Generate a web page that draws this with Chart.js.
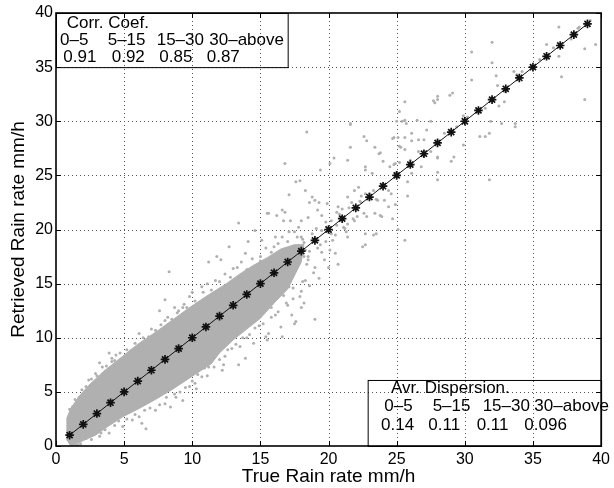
<!DOCTYPE html>
<html>
<head>
<meta charset="utf-8">
<script src="https://cdn.jsdelivr.net/npm/chart.js@4/dist/chart.umd.min.js"></script>
<style>
  html, body { margin: 0; padding: 0; background: #fff; }
</style>
</head>
<body>
<canvas id="rainChart" width="614" height="488"></canvas>
<script>
// tick values
var axisTicks = [0, 5, 10, 15, 20, 25, 30, 35, 40];

// 1:1 reference line with markers
var lineTrue      = [1, 2, 3, 4, 5, 6, 7, 8, 9, 10, 11, 12, 13, 14, 15, 16, 17, 18, 19, 20, 21, 22, 23, 24, 25, 26, 27, 28, 29, 30, 31, 32, 33, 34, 35, 36, 37, 38, 39];
var lineRetrieved = [1, 2, 3, 4, 5, 6, 7, 8, 9, 10, 11, 12, 13, 14, 15, 16, 17, 18, 19, 20, 21, 22, 23, 24, 25, 26, 27, 28, 29, 30, 31, 32, 33, 34, 35, 36, 37, 38, 39];

// outline of the solid grey cloud
var bandTrue      = [0.8, 0.8, 1.1, 1.7, 2.4, 3.5, 4.9, 6.0, 7.3, 8.5, 9.7, 11.0, 12.5, 13.5, 14.5, 15.5, 16.5, 17.5, 18.2, 18.0, 17.0, 16.0, 15.0, 14.0, 13.0, 12.0, 11.4, 9.7, 8.5, 7.3, 6.0, 4.9, 3.8, 2.9, 2.0, 1.5, 1.0];
var bandRetrieved = [0.5, 2.6, 3.5, 4.6, 5.6, 6.9, 8.3, 9.4, 10.5, 11.6, 12.7, 13.8, 15.0, 15.9, 16.7, 17.4, 18.2, 18.6, 18.6, 17.0, 14.5, 13.2, 11.8, 10.8, 9.8, 8.6, 7.6, 6.2, 5.2, 4.3, 3.4, 2.7, 1.8, 1.0, 0.5, 0.2, 0.1];

// scattered samples outside the solid part, [true, retrieved]
var cloudPoints = [
  [1.2,3.6],[1.7,4.5],[2.2,5.5],[2.4,6.1],[2.9,6.7],[3.2,7.7],[3.4,7.3],[4.1,7.8],[4.4,8.4],[5.5,8.8],
  [5.9,9.1],[6.3,9.4],[6.8,10.1],[7.3,10.7],[8.0,11.6],[8.5,11.7],[9.0,12.5],[9.6,12.8],[9.3,12.8],[9.8,13.8],
  [10.0,14.2],[10.7,14.7],[11.7,15.3],[12.4,15.9],[13.0,16.4],[11.2,17.0],[11.8,17.5],[12.1,17.2],[12.7,18.4],[13.4,20.6],
  [14.1,18.9],[13.9,17.8],[8.3,16.1],[8.0,13.5],[7.6,12.5],[4.1,8.1],
  [3.2,0.9],[3.9,1.2],[4.9,1.8],[5.6,2.4],[6.1,2.7],[6.3,2.1],[6.6,1.6],[7.3,3.3],[8.0,3.9],[8.4,3.6],
  [8.8,4.5],[9.3,4.2],[9.8,5.5],[10.2,5.8],[10.7,6.4],[11.2,7.3],[12.6,8.9],[13.4,7.5],[13.9,8.1],[12.2,7.0],
  [14.9,11.1],[15.4,10.1],[15.5,9.8],[15.6,10.4],[16.6,10.1],[15.8,12.8],[16.1,12.1],[16.4,14.1],[17.0,13.0],[17.1,14.7],
  [17.3,12.1],[17.5,11.3],[17.6,11.5],[17.9,13.8],[18.0,12.8],[18.2,13.2],[18.3,15.3],[19.0,11.7],[16.5,11.0],[14.5,9.5],
  [14.0,10.0],[13.5,9.2],
  [1.2,0.1],[1.4,0.2],[1.6,0.1],[1.3,0.3],[1.8,0.2],[1.1,0.4],[1.5,0.0],
  [1.0,3.4],[1.4,4.3],[1.9,5.2],[2.6,6.2],[3.0,6.5],[3.7,7.4],[4.3,7.9],[4.7,8.6],[5.2,8.9],[5.8,9.5],
  [6.4,10.0],[7.0,10.8],[7.7,11.2],[8.2,11.9],[8.9,12.3],[9.4,13.1],[10.2,13.4],[10.8,14.2],[11.4,14.4],[12.0,15.2],
  [12.8,15.6],[13.3,16.5],[14.0,16.3],[14.4,17.3],[15.0,17.1],[15.8,17.9],[16.3,18.7],[17.0,18.9],[17.7,19.3],[3.9,8.6],
  [6.1,10.4],[8.7,12.8],[11.1,15.0],[13.6,17.0],
  [2.2,0.7],[2.6,0.6],[3.3,1.2],[3.6,1.5],[4.3,1.9],[4.6,2.3],[5.2,2.5],[5.8,2.9],[6.5,3.3],[6.9,3.5],
  [7.6,3.8],[8.1,4.5],[8.7,4.8],[9.1,5.0],[9.5,5.4],[10.0,6.0],[10.4,6.6],[10.9,7.2],[11.6,7.3],[12.0,8.0],
  [12.4,8.3],[12.9,9.0],[13.2,9.4],[13.7,10.0],[14.2,10.3],[14.6,10.9],[15.2,11.3],[15.8,11.9],[16.3,12.4],[16.9,13.2],
  [17.4,13.6],[18.0,14.3],[18.6,14.8],[19.3,15.5],[11.1,6.5],[12.3,7.5],[10.3,5.3],
  [15.5,15.0],[16.0,15.5],[16.3,16.8],[16.8,15.8],[17.2,16.5],[17.5,18.2],[17.8,17.0],[18.2,18.8],[18.5,17.5],[18.8,19.6],
  [19.2,18.3],[19.5,19.9],[19.8,18.9],[20.2,20.8],[20.5,19.5],[20.8,21.4],[21.2,20.1],[21.5,22.0],[21.8,21.0],[22.3,22.6],
  [22.6,21.5],[23.0,23.3],[23.5,22.8],[24.0,24.2],[24.4,23.6],[25.0,25.3],[26.0,26.4],[27.0,26.8],[28.5,28.9],[30.2,30.4],
  [31.5,31.2],[33.0,32.7],[34.2,34.6],[35.5,35.7],[36.5,36.8],[37.8,37.6],[39.2,39.3],[38.3,38.6],
  [15.2,16.2],[15.6,14.2],[16.1,16.9],[16.4,15.2],[16.7,17.5],[17.0,15.9],[17.4,17.9],[17.7,16.6],[18.1,19.1],[18.6,18.0],
  [19.1,20.1],[19.4,18.6],[19.8,20.7],[20.3,19.0],[20.6,20.4],[21.0,21.9],[21.3,19.8],[21.7,22.5],[22.1,21.2],[22.4,23.1],
  [15.0,17.5],[15.4,18.3],[16.0,18.4],[16.6,19.3],[17.1,19.8],[17.8,20.2],[18.5,21.1],[19.2,21.8],[19.9,22.4],[15.9,13.2],
  [16.7,13.9],[17.4,14.6],[18.1,15.2],[18.9,16.0],[19.5,17.9],[20.1,18.1],[14.7,14.5],[15.3,15.5],[14.9,16.7],[13.8,15.7],
  [18.4,29.0],[16.8,26.1],[21.6,29.7],[22.8,28.2],[23.4,27.6],[23.7,27.0],[24.9,26.1],[25.1,28.5],[25.3,27.6],[21.4,26.4],
  [22.7,25.5],[20.4,26.6],[20.1,26.1],[19.4,25.5],[17.9,24.5],[17.6,24.4],[18.3,23.6],[17.1,23.2],[18.8,23.0],[19.0,22.7],
  [18.6,22.5],[19.3,22.5],[15.6,21.5],[16.6,21.8],[16.7,20.8],[17.2,20.8],[18.0,20.8],[19.5,21.3],[20.6,21.6],[20.7,22.1],
  [21.4,23.0],[21.9,23.6],[22.2,23.9],[22.7,23.3],[22.4,22.5],[23.3,23.6],[23.6,22.7],[24.4,22.1],[23.8,21.3],[22.8,21.2],
  [21.4,20.5],[21.9,20.8],[21.1,20.2],[20.2,19.6],[21.4,19.3],[22.5,18.4],[23.3,19.5],[20.5,17.8],[20.7,16.8],[19.7,17.2],
  [19.0,16.5],[20.0,16.5],[18.2,17.5],[18.4,16.8],[16.8,17.8],[16.1,19.3],[15.1,19.0],[14.6,19.9],[15.7,17.2],[15.5,21.5],
  [16.2,21.3],[16.8,21.6],[17.5,19.8],[18.0,19.3],[18.3,18.1],[18.5,17.2],
  [36.9,38.7],[36.0,37.1],[38.4,38.7],[38.8,36.7],[39.6,37.1],[36.9,36.0],[37.1,34.1],[38.8,32.0],[32.0,37.3],[32.0,35.4],
  [30.5,36.4],[32.3,34.2],[30.5,33.8],[33.6,34.6],[33.8,34.3],[32.4,33.3],[32.9,31.8],[32.5,31.4],[32.7,29.8],[33.7,29.8],
  [33.7,29.5],[31.9,30.0],[31.8,28.9],[31.1,28.6],[31.5,28.6],[29.1,32.6],[28.9,32.4],[28.0,32.3],[28.0,32.0],[27.7,31.9],
  [27.8,31.7],[25.6,31.8],[25.2,30.9],[25.0,30.0],[25.4,30.0],[25.6,30.1],[26.5,30.1],[27.5,30.0],[29.9,30.5],[29.0,29.1],
  [29.4,29.5],[27.2,29.2],[26.1,28.9],[24.8,28.5],[25.6,28.5],[26.1,28.2],[26.6,28.3],[27.0,28.3],[25.2,27.7],[25.6,27.4],
  [28.0,26.6],[27.5,27.2],[26.6,27.2],[29.0,26.3],[29.2,26.7],[23.8,27.1],[24.0,26.3],
  [31.8,24.6],[28.0,24.6],[29.9,27.8],[28.0,26.7],[28.0,25.3],[26.8,25.8],[26.1,25.2],[25.8,24.4],[25.8,23.1],[24.6,23.3],
  [24.1,22.7],[24.9,22.3],[23.9,21.2],[23.4,21.5],[23.5,19.6],[22.7,19.6],[22.7,18.6],[25.1,20.0],[25.6,19.0],[24.7,21.0],
  [21.6,29.8],[21.6,27.6],[22.6,28.6],[24.7,28.4],[25.7,29.8],[22.7,25.8],[23.2,25.2],[24.5,25.8],[24.8,26.0],[25.2,26.2]
];

// text boxes
var corrLabels = ['0\u20135', '5\u201315', '15\u201330', '30\u2013above'];
var corrValues = ['0.91', '0.92', '0.85', '0.87'];
var dispLabels = ['0\u20135', '5\u201315', '15\u201330', '30\u2013above'];
var dispValues = ['0.14', '0.11', '0.11', '0.096'];

var FONT = "'Liberation Sans', Arial, Helvetica, sans-serif";
var GREY = '#b0b0b0';

var band = bandTrue.map(function(x, i) { return { x: x, y: bandRetrieved[i] }; });
var cloud = cloudPoints.map(function(p) { return { x: p[0], y: p[1] }; });
var oneToOne = lineTrue.map(function(x, i) { return { x: x, y: lineRetrieved[i] }; });

var matlabFrame = {
  id: 'matlabFrame',
  beforeDatasetsDraw: function(chart) {
    // dotted grid, under the data
    var ctx = chart.ctx;
    var a = chart.chartArea;
    var xs = chart.scales.x, ys = chart.scales.y;
    ctx.save();
    ctx.strokeStyle = '#555';
    ctx.lineWidth = 1;
    ctx.setLineDash([1, 3]);
    ctx.beginPath();
    axisTicks.slice(1, -1).forEach(function(v) {
      var px = Math.round(xs.getPixelForValue(v)) + 0.5;
      ctx.moveTo(px, a.top); ctx.lineTo(px, a.bottom);
      var py = Math.round(ys.getPixelForValue(v)) + 0.5;
      ctx.moveTo(a.left, py); ctx.lineTo(a.right, py);
    });
    ctx.stroke();
    ctx.restore();
  },
  afterDraw: function(chart) {
    var ctx = chart.ctx;
    var a = chart.chartArea;
    var xs = chart.scales.x, ys = chart.scales.y;
    ctx.save();
    ctx.strokeStyle = '#000';
    ctx.lineWidth = 1;
    ctx.beginPath();
    axisTicks.forEach(function(v) {
      var px = Math.round(xs.getPixelForValue(v)) + 0.5;
      ctx.moveTo(px, a.bottom); ctx.lineTo(px, a.bottom - 5);
      ctx.moveTo(px, a.top); ctx.lineTo(px, a.top + 5);
      var py = Math.round(ys.getPixelForValue(v)) + 0.5;
      ctx.moveTo(a.left, py); ctx.lineTo(a.left + 5, py);
      ctx.moveTo(a.right, py); ctx.lineTo(a.right - 5, py);
    });
    ctx.stroke();

    ctx.lineWidth = 1.6;
    ctx.strokeRect(a.left, a.top, a.right - a.left, a.bottom - a.top);

    // upper-left box
    ctx.lineWidth = 1;
    var bx = xs.getPixelForValue(0), by = ys.getPixelForValue(40);
    var bw = xs.getPixelForValue(17) - bx, bh = ys.getPixelForValue(35) - by;
    ctx.strokeRect(bx + 0.5, by + 0.5, bw, bh);
    ctx.fillStyle = '#000';
    ctx.font = '17px ' + FONT;
    ctx.textBaseline = 'alphabetic';
    ctx.textAlign = 'left';
    ctx.fillText('Corr. Coef.', bx + 10.7, by + 15.3);
    var c2 = [4, 51.7, 100.7, 153.3], c3 = [7.3, 55.7, 103.3, 150.7];
    corrLabels.forEach(function(t, i) { ctx.fillText(t, bx + c2[i], by + 32); });
    corrValues.forEach(function(t, i) { ctx.fillText(t, bx + c3[i], by + 48.7); });

    // lower-right box
    var lx = xs.getPixelForValue(22.87), ly = ys.getPixelForValue(6.1);
    ctx.strokeRect(lx + 0.5, ly + 0.5, a.right - lx, a.bottom - ly);
    ctx.fillText('Avr. Dispersion.', lx + 23.4, ly + 13.3);
    var d2 = [16.7, 65, 115, 166.7], d3 = [13.4, 60.7, 109, 156.7];
    dispLabels.forEach(function(t, i) { ctx.fillText(t, lx + d2[i], ly + 30.7); });
    dispValues.forEach(function(t, i) { ctx.fillText(t, lx + d3[i], ly + 50); });
    ctx.restore();
  }
};

var ctx = document.getElementById('rainChart').getContext('2d');
var chart = new Chart(ctx, {
  type: 'scatter',
  data: {
    datasets: [{
      label: 'band',
      data: band,
      showLine: true,
      fill: 'shape',
      backgroundColor: GREY,
      borderColor: GREY,
      borderWidth: 1,
      pointRadius: 0,
      tension: 0,
      order: 3
    }, {
      label: 'samples',
      data: cloud,
      backgroundColor: GREY,
      borderWidth: 0,
      pointRadius: 1.5,
      order: 2
    }, {
      label: '1:1',
      data: oneToOne,
      showLine: true,
      borderColor: '#111',
      borderWidth: 1,
      pointStyle: 'star',
      pointRadius: 4.3,
      pointBorderWidth: 1.7,
      pointBorderColor: '#111',
      pointBackgroundColor: '#111',
      order: 1
    }]
  },
  options: {
    responsive: false,
    animation: false,
    events: [],
    layout: { padding: { left: 0, right: 10, top: 13, bottom: 0 } },
    plugins: { legend: { display: false }, tooltip: { enabled: false } },
    scales: {
      x: {
        type: 'linear', min: 0, max: 40,
        afterFit: function(s) { s.height = 42; },
        afterBuildTicks: function(s) { s.ticks = axisTicks.map(function(v) { return { value: v }; }); },
        ticks: { color: '#000', font: { family: FONT, size: 16 }, padding: 4, maxRotation: 0 },
        grid: { display: false, drawTicks: false },
        border: { display: false },
        title: { display: true, text: 'True Rain rate mm/h', color: '#000', font: { family: FONT, size: 19 }, padding: 0 }
      },
      y: {
        type: 'linear', min: 0, max: 40,
        afterFit: function(s) { s.width = 56; },
        afterBuildTicks: function(s) { s.ticks = axisTicks.map(function(v) { return { value: v }; }); },
        ticks: { color: '#000', font: { family: FONT, size: 16 }, padding: 3 },
        grid: { display: false, drawTicks: false },
        border: { display: false },
        title: { display: true, text: 'Retrieved Rain rate mm/h', color: '#000', font: { family: FONT, size: 19 }, padding: { top: 7, bottom: 0 } }
      }
    }
  },
  plugins: [matlabFrame]
});
</script>
</body>
</html>
